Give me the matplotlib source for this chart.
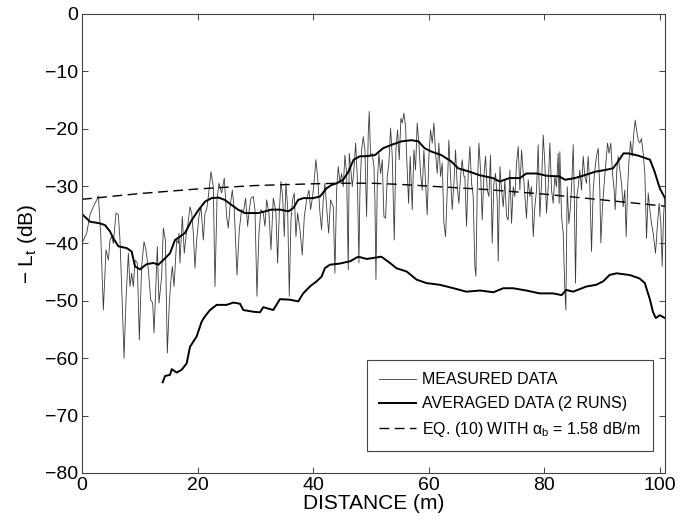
import matplotlib
matplotlib.use("Agg")
import matplotlib.pyplot as plt

plt.rcParams['font.family'] = ['Liberation Sans', 'DejaVu Sans']
plt.rcParams['mathtext.fontset'] = 'custom'
plt.rcParams['mathtext.rm'] = 'Liberation Sans'
plt.rcParams['mathtext.it'] = 'Liberation Sans:italic'

# ---------------- data ----------------
dist_meas = [
    0.12, 0.81, 1.38, 1.96, 2.54, 2.83, 3.23, 3.69, 4.15, 4.56, 4.84, 5.13, 5.42, 5.88, 6.29, 6.57,
    7.04, 7.27, 7.61, 8.02, 8.30, 8.59, 8.88, 9.17, 9.57, 9.92, 10.32, 10.73, 11.07, 11.48, 11.88,
    12.23, 12.46, 12.80, 13.03, 13.32, 13.78, 14.07, 14.42, 14.76, 15.11, 15.34, 15.63, 15.92, 16.38, 16.67,
    16.78, 16.95, 17.36, 17.70, 17.99, 18.28, 18.69, 18.98, 19.26, 19.55, 19.84, 20.24, 20.59, 20.99,
    21.28, 21.57, 21.86, 22.32, 22.72, 23.01, 23.36, 23.70, 24.16, 24.62, 25.03, 25.32, 25.61, 26.01,
    26.35, 26.82, 27.22, 27.62, 27.91, 28.31, 28.66, 28.95, 29.24, 29.64, 29.93, 30.28, 30.62, 30.97,
    31.37, 31.66, 31.95, 32.35, 32.70, 33.10, 33.39,
    33.56, 33.85, 34.14, 34.43, 34.72, 35.00, 35.29, 35.58, 35.87, 36.16, 36.45, 36.73, 37.02, 37.31,
    37.72, 38.12, 38.47, 38.87, 39.27, 39.56, 39.91, 40.25, 40.48, 40.77, 41.18, 41.46, 41.75, 42.04,
    42.33, 42.68, 43.02, 43.48, 43.77, 44.06, 44.35, 44.64, 44.92, 45.21, 45.50, 45.79, 46.08, 46.25,
    46.48, 46.77, 47.06, 47.35, 47.64, 47.92, 48.10, 48.39, 48.67, 48.96, 49.25, 49.54, 49.71,
    49.94, 50.23, 50.52, 50.69, 50.87, 51.10, 51.38, 51.67, 51.96, 52.25, 52.54, 52.83, 53.11, 53.40,
    53.69, 54.04, 54.32, 54.61, 54.90, 55.19, 55.42, 55.71, 56.00, 56.23, 56.52, 56.80, 57.15, 57.44,
    57.72, 58.01, 58.30, 58.59, 58.88, 59.17, 59.46, 59.74, 60.03, 60.32, 60.61, 60.90, 61.19, 61.48,
    61.76, 62.05, 62.34, 62.63, 62.92, 63.21, 63.49, 63.78, 64.07, 64.36, 64.65, 64.94, 65.22, 65.51,
    65.80, 66.09,
    66.26, 66.55, 66.84, 67.13, 67.42, 67.70, 67.99, 68.17, 68.40, 68.69, 68.97, 69.26, 69.55, 69.84,
    70.13, 70.42, 70.70, 70.99, 71.28, 71.57, 71.86, 72.03, 72.32, 72.61, 72.90, 73.18, 73.47, 73.76,
    74.05, 74.34, 74.63, 74.91, 75.20, 75.49, 75.78, 76.07, 76.36, 76.64, 76.93, 77.22, 77.51, 77.80,
    78.09, 78.37, 78.66, 78.95, 79.24, 79.53, 79.82, 80.10, 80.39, 80.68, 80.97, 81.26, 81.55, 81.83,
    82.12, 82.41, 82.58,
    82.70, 82.99, 83.28, 83.56, 83.74, 83.97, 84.26, 84.54, 84.83, 85.01, 85.18, 85.41, 85.64, 85.87,
    86.16, 86.45, 86.74, 87.02, 87.31, 87.60, 87.89, 88.18, 88.47, 88.75, 89.04, 89.33, 89.62, 89.79,
    90.08, 90.37, 90.66, 90.95, 91.23, 91.52, 91.81, 92.10, 92.27, 92.56, 92.79, 93.08, 93.37, 93.66,
    93.94, 94.18, 94.41, 94.64, 94.93, 95.22, 95.50, 95.74, 95.97, 96.26, 96.54, 96.83, 97.12, 97.41,
    97.70, 97.99, 98.27, 98.56, 98.85, 99.26, 99.60, 99.89, 100.18, 100.41, 100.64, 100.87,
]
level_meas = [
    -39.7, -38.2, -35.0, -33.6, -32.4, -31.7, -38.2, -51.6, -41.1, -42.9, -39.4, -38.8, -40.0, -34.7, -35.0, -39.4,
    -52.7, -60.0, -49.8, -41.7, -47.5, -45.2, -47.5, -42.9, -43.4, -56.8, -44.0, -39.7, -41.1, -44.6, -49.8,
    -50.4, -55.6, -46.9, -40.5, -50.4, -45.8, -37.3, -39.4, -59.1, -50.4, -46.9, -44.0, -47.5, -39.4, -40.0,
    -38.2, -43.4, -35.3, -41.7, -38.8, -37.0, -33.6, -34.7, -38.2, -44.3, -39.4, -35.3, -33.6, -39.4,
    -34.7, -34.1, -31.8, -27.5, -30.1, -47.5, -32.4, -29.5, -31.2, -28.6, -35.3, -37.3, -33.6, -30.7,
    -34.1, -45.5, -37.6, -34.1, -34.7, -32.1, -37.0, -34.1, -32.1, -31.8, -34.1, -49.2, -38.2, -34.1,
    -34.7, -37.0, -32.4, -34.7, -41.1, -32.1, -33.6,
    -34.7, -43.4, -34.7, -29.2, -31.8, -38.8, -29.5, -33.6, -49.2, -35.9, -32.4, -31.2, -38.8, -34.7,
    -37.6, -42.0, -35.3, -32.4, -30.7, -34.1, -31.8, -28.3, -25.4, -28.3, -34.7, -37.6, -32.4, -29.5,
    -33.6, -38.2, -32.4, -33.6, -45.2, -30.7, -26.6, -29.5, -27.8, -30.1, -24.6, -27.8, -44.6, -24.3,
    -26.6, -30.1, -27.2, -22.5, -28.3, -43.4, -30.7, -23.7, -21.4, -23.7, -35.3, -20.8, -17.0,
    -24.8, -24.3, -26.6, -32.4, -46.3, -29.5, -24.3, -27.8, -25.4, -35.3, -35.6, -28.3, -26.0, -19.9,
    -24.8, -39.4, -23.7, -20.2, -25.4, -18.2, -19.0, -17.3, -19.6, -26.0, -33.0, -24.8, -34.1, -23.7,
    -27.2, -19.0, -22.5, -27.8, -30.7, -23.7, -29.5, -35.0, -24.8, -20.2, -22.5, -19.0, -24.3, -27.8,
    -22.5, -28.3, -26.0, -36.5, -38.8, -30.7, -22.0, -28.3, -34.1, -29.5, -23.7, -30.1, -33.0, -28.3,
    -25.4, -28.3,
    -28.3, -37.0, -27.8, -23.1, -29.5, -31.8, -44.0, -45.7, -30.7, -22.5, -27.2, -35.9, -28.3, -24.8,
    -30.7, -31.8, -24.6, -39.9, -29.5, -27.8, -32.4, -43.1, -26.6, -30.7, -33.6, -28.9, -35.3, -35.9,
    -27.2, -36.5, -30.1, -31.8, -26.0, -23.1, -30.7, -23.7, -27.8, -31.8, -35.6, -28.9, -31.8, -30.1,
    -38.8, -33.6, -30.7, -22.8, -35.3, -29.5, -21.1, -26.0, -34.7, -30.1, -22.5, -30.7, -33.0, -28.3,
    -30.1, -24.3, -33.0,
    -24.0, -35.3, -38.2, -48.1, -51.6, -30.1, -36.5, -33.6, -27.8, -22.8, -30.7, -46.9, -31.8, -30.1,
    -27.2, -30.7, -24.8, -28.3, -29.5, -24.8, -30.1, -41.4, -30.7, -27.2, -24.8, -23.4, -30.7, -39.9,
    -33.6, -29.5, -26.0, -22.5, -24.3, -22.5, -27.8, -30.7, -34.1, -27.2, -24.8, -27.2, -29.5, -33.6,
    -30.7, -38.8, -30.7, -26.0, -22.2, -24.8, -20.8, -18.5, -20.2, -22.0, -22.5, -21.7, -24.3, -27.8,
    -39.1, -31.2, -34.1, -36.5, -38.2, -41.7, -36.5, -33.0, -36.5, -44.0, -35.3, -31.8,
]

dist_avg = [
    0.12, 1.38, 3.11, 3.98, 4.84, 5.42, 6.29, 7.73, 8.59, 9.17, 10.03, 11.19, 12.34, 13.21, 14.36, 15.22,
    16.09, 17.8, 19.0, 20.2, 21.3, 22.4, 23.6, 24.7, 25.9, 27.0, 28.2, 29.4, 30.5, 31.7, 32.8, 34.3,
    35.7, 36.6, 37.4, 38.3, 40.0, 41.2, 42.3, 43.2, 44.1, 45.2, 46.1, 47.0, 48.1, 49.0, 50.7, 52.1,
    53.6, 55.3, 57.0, 58.2, 59.3, 60.5, 62.2, 63.9, 65.1, 66.1, 67.1, 68.8, 71.1, 72.3, 74.0, 75.8,
    76.9, 78.7, 80.4, 82.6, 83.6, 85.3, 87.0, 88.8, 90.5, 91.9, 92.8, 93.7, 94.6, 96.3, 98.3, 99.1,
    100.0, 100.9,
]
level_avg = [
    -35.0, -36.2, -36.5, -36.8, -37.9, -39.1, -40.5, -40.8, -41.4, -44.0, -44.5, -43.6, -43.4, -43.7, -42.6, -41.7,
    -39.4, -38.2, -35.9, -34.1, -32.7, -32.1, -32.0, -32.4, -33.3, -34.1, -34.7, -34.7, -34.7, -34.4, -34.1, -34.1,
    -34.4, -33.8, -32.4, -32.1, -32.1, -31.8, -30.4, -29.8, -29.5, -28.9, -27.5, -25.4, -24.8, -24.8, -24.6, -23.4,
    -22.8, -22.2, -22.0, -22.2, -23.4, -24.0, -24.6, -25.7, -26.9, -27.2, -27.5, -28.1, -28.6, -29.2, -28.6, -28.6,
    -27.8, -27.8, -28.2, -28.3, -28.9, -28.6, -28.1, -27.5, -27.2, -26.9, -25.7, -24.3, -24.3, -24.7, -25.4, -27.5,
    -30.4, -32.1,
]

dist_avg_low = [
    13.96, 14.37, 15.23, 15.52, 16.39, 17.25, 18.11, 18.69, 19.84, 20.71, 21.28, 22.15, 23.30, 25.03,
    26.18, 27.34, 27.91, 29.64, 30.80, 31.37, 33.10, 34.25, 35.98, 37.42, 38.28, 39.43, 40.59, 41.45,
    42.03, 42.89, 44.62, 46.4, 47.8, 49.3, 51.8, 53.3, 54.4, 56.2, 57.9, 59.6, 61.9, 64.3, 66.5, 68.9,
    71.2, 72.9, 74.6, 76.9, 79.2, 81.5, 83.0, 83.8, 85.0, 87.3, 89.0, 90.2, 91.3, 92.5, 94.8, 96.5,
    97.4, 98.3, 98.8, 99.3, 100.0, 100.9,
]
level_avg_low = [
    -64.2, -63.1, -62.9, -61.9, -62.5, -62.0, -60.9, -58.0, -56.2, -53.6, -52.7, -51.6, -50.7, -50.7,
    -50.3, -50.5, -51.6, -51.9, -52.0, -51.1, -51.6, -49.7, -49.8, -50.1, -48.7, -47.5, -46.6, -45.8,
    -44.3, -43.7, -43.5, -43.1, -42.3, -42.7, -42.3, -43.4, -44.3, -44.9, -46.3, -46.9, -47.2, -47.8,
    -48.4, -48.2, -48.5, -47.8, -47.8, -48.2, -48.7, -48.7, -49.0, -48.1, -48.4, -47.5, -47.2, -46.6,
    -45.5, -45.2, -45.5, -46.1, -46.9, -49.8, -51.9, -53.0, -52.5, -53.0,
]

dist_eq = [0, 10, 20, 30, 40, 45, 50, 55, 60, 65, 70, 75, 80, 85, 90, 95, 100.9]
level_eq = [-32.3, -31.3, -30.5, -29.9, -29.6, -29.5, -29.5, -29.7, -30.0, -30.3, -30.6,
            -31.0, -31.4, -31.9, -32.4, -32.9, -33.5]

x_ticks = [0, 20, 40, 60, 80, 100]
y_ticks = [-80, -70, -60, -50, -40, -30, -20, -10, 0]

legend_labels = ['MEASURED DATA', 'AVERAGED DATA (2 RUNS)',
                 r'EQ. (10) WITH $\mathrm{\alpha}_\mathrm{b}$ = 1.58 dB/m']

# ---------------- figure ----------------
fig = plt.figure(figsize=(6.87, 5.27), dpi=100)
ax = fig.add_axes([0.1194, 0.1025, 0.8486, 0.871])

l1, = ax.plot(dist_meas, level_meas, color='#3a3a3a', lw=0.6)
l2, = ax.plot(dist_avg, level_avg, color='black', lw=1.4)
ax.plot(dist_avg_low, level_avg_low, color='black', lw=1.4)
l3, = ax.plot(dist_eq, level_eq, color='black', lw=1.0, dashes=(7, 4))

ax.set_xlim(0, 100.9)
ax.set_ylim(-80, 0)
ax.set_xticks(x_ticks)
ax.set_yticks(y_ticks)
ax.set_yticklabels(['\u2212%d' % abs(v) if v < 0 else '%d' % v for v in y_ticks])
ax.tick_params(direction='in', top=True, right=True, length=4, width=0.7,
               color='#444444', labelsize=14, pad=3)
for s in ax.spines.values():
    s.set_color('#444444')
    s.set_linewidth(0.8)

ax.set_xlabel('DISTANCE (m)', fontsize=15, labelpad=0)
ax.set_ylabel(r'$-$ L$_\mathrm{t}$ (dB)', fontsize=15, labelpad=4)

leg = ax.legend([l1, l2, l3], legend_labels, loc='lower left',
                bbox_to_anchor=(0.489, 0.048), fontsize=11.5, frameon=True,
                fancybox=False, edgecolor='#444444', handlelength=2.3,
                handletextpad=0.4, labelspacing=0.55, borderpad=0.75,
                borderaxespad=0, framealpha=1)
leg.get_frame().set_linewidth(0.8)

fig.savefig('out.png', dpi=100)
